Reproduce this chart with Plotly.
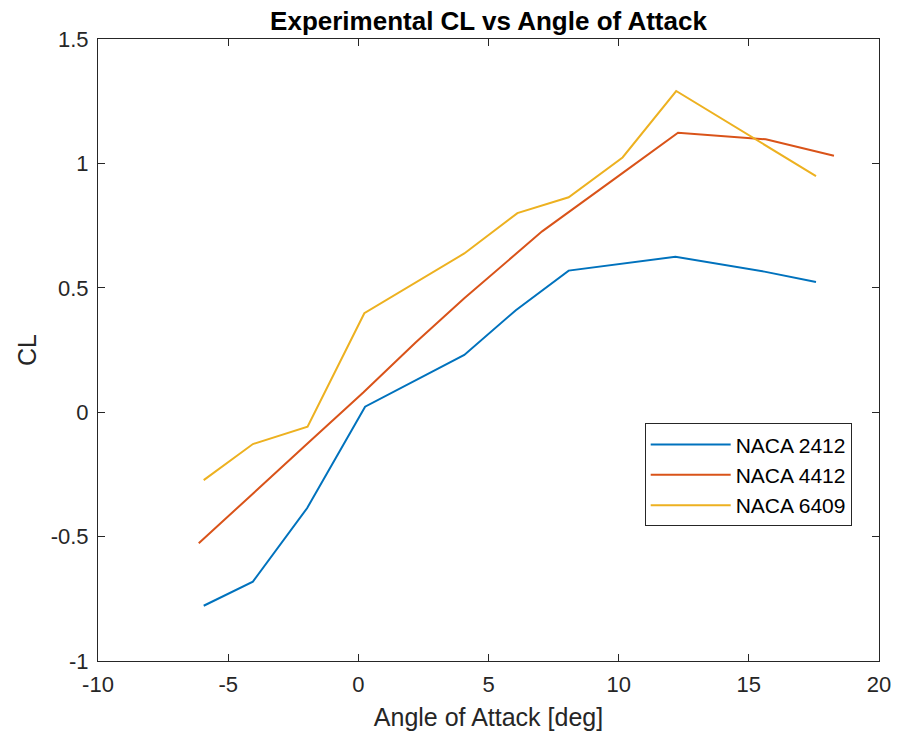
import plotly.graph_objects as go

# Measured lift coefficient vs angle of attack for three airfoils
aoa_2412 = [-5.94, -4.05, -1.97, 0.26, 4.07, 6.05, 8.08, 12.18, 15.6, 17.58]
cl_2412 = [-0.778, -0.681, -0.386, 0.022, 0.23, 0.41, 0.569, 0.625, 0.565, 0.523]

aoa_4412 = [-6.13, -4.1, -2.1, 0.2, 2.2, 4.07, 6.0, 7.06, 10.0, 12.28, 15.65, 18.27]
cl_4412 = [-0.527, -0.33, -0.14, 0.08, 0.28, 0.458, 0.63, 0.727, 0.95, 1.123, 1.097, 1.031]

aoa_6409 = [-5.94, -4.05, -1.95, 0.23, 4.07, 6.11, 8.08, 10.15, 12.21, 17.58]
cl_6409 = [-0.273, -0.128, -0.058, 0.398, 0.638, 0.80, 0.864, 1.024, 1.291, 0.949]

series_names = ["NACA 2412", "NACA 4412", "NACA 6409"]
colors = ["#0072BD", "#D95319", "#EDB120"]

x_ticks = [-10, -5, 0, 5, 10, 15, 20]
y_ticks = [-1, -0.5, 0, 0.5, 1, 1.5]

FONT = "Liberation Sans"
INK = "#262626"


def label(v):
    # plain hyphen-minus labels
    return f"{v:g}"


fig = go.Figure()
for xs, ys, name, c in zip([aoa_2412, aoa_4412, aoa_6409],
                           [cl_2412, cl_4412, cl_6409],
                           series_names, colors):
    fig.add_trace(go.Scatter(x=xs, y=ys, mode="lines", name=name,
                             line=dict(color=c, width=2)))

axis_common = dict(
    showgrid=False, zeroline=False, showline=True, linecolor=INK,
    linewidth=1, mirror="ticks", ticks="inside", ticklen=7,
    tickcolor=INK, tickfont=dict(family=FONT, size=22, color=INK),
)

fig.update_layout(
    width=903, height=740,
    margin=dict(l=98, r=17, t=39, b=79),
    paper_bgcolor="white", plot_bgcolor="white",
    title=dict(text="<b>Experimental CL vs Angle of Attack</b>", x=0.5, xanchor="center",
               xref="paper", y=1, yref="paper", yanchor="bottom", pad=dict(b=9),
               font=dict(family=FONT, size=26, color="black")),
    xaxis=dict(range=[-10, 20], tickvals=x_ticks, ticktext=[label(v) for v in x_ticks],
               ticklabelstandoff=4,
               title=dict(text="Angle of Attack [deg]", standoff=12,
                          font=dict(family=FONT, size=25, color=INK)),
               **axis_common),
    yaxis=dict(range=[-1, 1.5], tickvals=y_ticks, ticktext=[label(v) for v in y_ticks],
               ticklabelstandoff=4,
               title=dict(text="CL", standoff=6,
                          font=dict(family=FONT, size=25, color=INK)),
               **axis_common),
    legend=dict(x=0.7, y=0.382, xanchor="left", yanchor="top",
                bgcolor="white", bordercolor=INK, borderwidth=1,
                font=dict(family=FONT, size=21, color="black"),
                tracegroupgap=0, itemwidth=80),
    showlegend=True,
)

fig.write_html("out.html")
